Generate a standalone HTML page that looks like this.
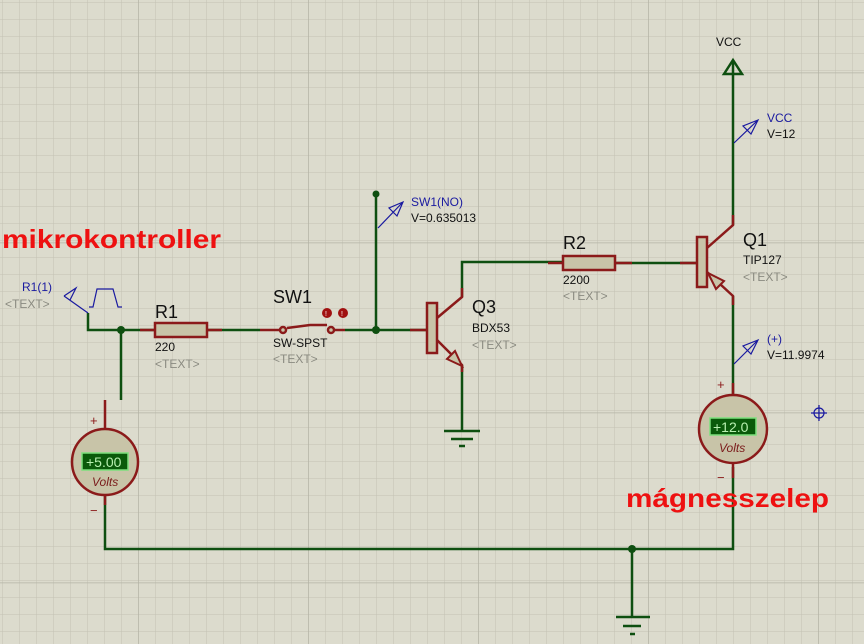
<!DOCTYPE html>
<html><head><meta charset="utf-8"><style>
html,body{margin:0;padding:0;background:#dcdbcd;}
svg{display:block;font-family:"Liberation Sans",Arial,sans-serif;}
</style></head><body>
<svg width="864" height="644" viewBox="0 0 864 644" xmlns="http://www.w3.org/2000/svg">
<defs>
<pattern id="minor" x="2" y="2.5" width="17" height="17" patternUnits="userSpaceOnUse">
<path d="M0 0H17M0 0V17" stroke="#c3c2b4" stroke-width="1" fill="none"/>
</pattern>
<pattern id="major" x="138" y="72.5" width="170" height="170" patternUnits="userSpaceOnUse">
<path d="M0 0H170M0 0V170" stroke="#b4b3a5" stroke-width="1.5" fill="none"/>
</pattern>
</defs>
<rect width="864" height="644" fill="#dcdbcd"/>
<rect width="864" height="644" fill="url(#minor)"/>
<rect width="864" height="644" fill="url(#major)"/>

<g fill="none" stroke="#0e4f10" stroke-width="2.5">
<path d="M88 313V330H155"/>
<path d="M121 330V400"/>
<path d="M105 494V549H733V467"/>
<path d="M632 549V617"/>
<path d="M345 330H427"/>
<path d="M376 330V194"/>
<path d="M462 365V430"/>
<path d="M462 297V262H563"/>
<path d="M615 263H697"/>
<path d="M733 296V400"/>
<path d="M733 225V62"/>
<path d="M207 330H260"/>
</g>
<g fill="#0e4f10">
<circle cx="121" cy="330" r="4"/><circle cx="376" cy="330" r="4"/><circle cx="376" cy="194" r="3.5"/><circle cx="632" cy="549" r="4"/>
</g>
<g stroke="#8b1a1a" stroke-width="2.5" fill="none">
<path d="M140 330H155M207 330H222"/>
<path d="M548 263H563M615 263H632"/>
<path d="M410 330H427"/>
<path d="M680 263H697"/>
<path d="M105 400V428M105 494V505"/>
<path d="M733 383V396M733 462V478"/>
<path d="M437 318L462 297V288"/>
<path d="M437 340L462 365V372"/>
<path d="M707 248L733 225V215"/>
<path d="M707 272L733 296V305"/>
<path d="M260 330H283M331 330H345"/>
<path d="M287 328L310 325H327"/>
</g>
<g fill="#c8c4a8" stroke="#8b1a1a" stroke-width="2.5">
<rect x="155" y="323" width="52" height="14"/>
<rect x="563" y="256" width="52" height="14"/>
<rect x="427" y="303" width="10" height="50"/>
<rect x="697" y="237" width="10" height="50"/>
<circle cx="283" cy="330" r="3"/><circle cx="331" cy="330" r="3"/>
<path d="M462 366L447 359L455 351Z" stroke-width="2"/>
<path d="M708 273L716 289L724 281Z" stroke-width="2"/>
</g>
<g fill="#a01010"><circle cx="327" cy="313" r="5"/><circle cx="343" cy="313" r="5"/></g>
<g fill="#fff" font-size="7"><text x="325" y="316">!</text><text x="341" y="316">!</text></g>
<g stroke="#8b1a1a" stroke-width="2.5" fill="#c8c4a8">
<circle cx="105" cy="462" r="33"/>
<circle cx="733" cy="429" r="34"/>
</g>
<rect x="82" y="453" width="46" height="17" fill="#0a5a0a" stroke="#7ce07c" stroke-width="1.5"/>
<rect x="710" y="418" width="46" height="17" fill="#0a5a0a" stroke="#7ce07c" stroke-width="1.5"/>
<g fill="#b8f0b0" font-size="14"><text x="86" y="467">+5.00</text><text x="713" y="432">+12.0</text></g>
<g fill="#7a1a1a" font-size="12" font-style="italic"><text x="92" y="486">Volts</text><text x="719" y="452">Volts</text></g>
<g fill="#8b1a1a" font-size="13"><text x="90" y="425">+</text><text x="90" y="515">−</text><text x="717" y="389">+</text><text x="717" y="482">−</text></g>
<g stroke="#0e4f10" stroke-width="2.5">
<path d="M444 431H480M451 439H473M459 446H465"/>
<path d="M616 617H650M623 626H641M630 634H635"/>
</g>
<path d="M724 74L733 60L742 74Z" fill="none" stroke="#0e4f10" stroke-width="2.5"/>
<g stroke="#1a1aa0" stroke-width="1.2" fill="none">
<path d="M88 313L64 296M64 296L76 288L70 300"/>
<path d="M89 307H93L97 289H113L118 307H122"/>
<path d="M378 228L403 202M403 202L389 208L397 216Z"/>
<path d="M734 143L758 120M758 120L743 126L751 134Z"/>
<path d="M734 364L758 340M758 340L743 346L751 354Z"/>
<circle cx="819" cy="413" r="5"/><path d="M811 413H827M819 405V421"/>
</g>
<g font-size="12">
<text x="22" y="291" fill="#1a1aa0">R1(1)</text>
<text x="5" y="308" fill="#8a8a80">&lt;TEXT&gt;</text>
<text x="411" y="206" fill="#1a1aa0">SW1(NO)</text>
<text x="411" y="222" fill="#111">V=0.635013</text>
<text x="716" y="46" fill="#111">VCC</text>
<text x="767" y="122" fill="#1a1aa0">VCC</text>
<text x="767" y="138" fill="#111">V=12</text>
<text x="767" y="343" fill="#1a1aa0">(+)</text>
<text x="767" y="359" fill="#111">V=11.9974</text>
<text x="155" y="351" fill="#111">220</text>
<text x="155" y="368" fill="#8a8a80">&lt;TEXT&gt;</text>
<text x="273" y="347" fill="#111">SW-SPST</text>
<text x="273" y="363" fill="#8a8a80">&lt;TEXT&gt;</text>
<text x="472" y="332" fill="#111">BDX53</text>
<text x="472" y="349" fill="#8a8a80">&lt;TEXT&gt;</text>
<text x="563" y="284" fill="#111">2200</text>
<text x="563" y="300" fill="#8a8a80">&lt;TEXT&gt;</text>
<text x="743" y="264" fill="#111">TIP127</text>
<text x="743" y="281" fill="#8a8a80">&lt;TEXT&gt;</text>
</g>
<g font-size="18" fill="#111">
<text x="155" y="318">R1</text>
<text x="273" y="303">SW1</text>
<text x="472" y="313">Q3</text>
<text x="563" y="249">R2</text>
<text x="743" y="246">Q1</text>
</g>
<g font-size="26" font-weight="bold" fill="#ee1111">
<text x="2" y="248" textLength="219" lengthAdjust="spacingAndGlyphs">mikrokontroller</text>
<text x="626" y="507" textLength="203" lengthAdjust="spacingAndGlyphs">mágnesszelep</text>
</g>
</svg>
</body></html>
